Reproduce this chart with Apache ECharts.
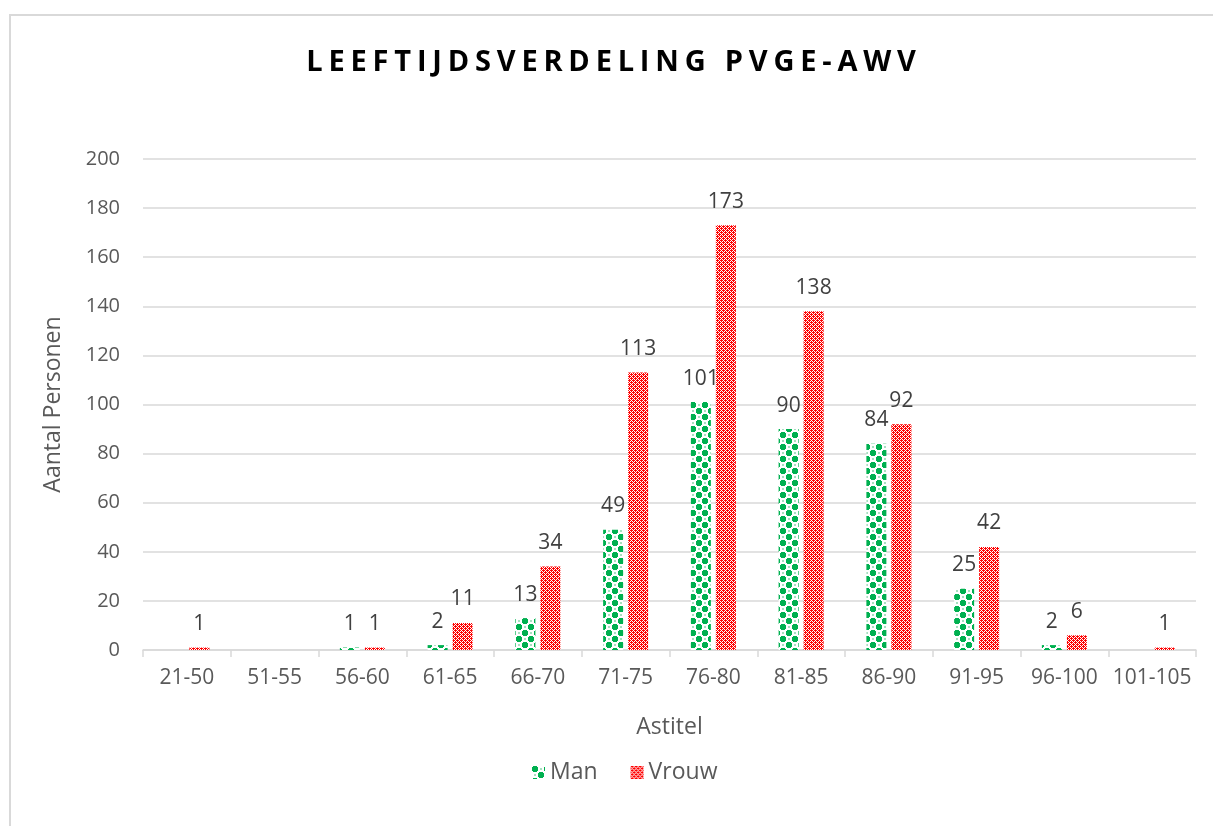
<!DOCTYPE html>
<html><head><meta charset="utf-8">
<script src="https://cdn.jsdelivr.net/npm/echarts@6/dist/echarts.min.js"></script>
<style>
html,body{margin:0;padding:0;background:#fff;}
#wrap{position:relative;width:1213px;height:826px;overflow:hidden;}
#frame{position:absolute;left:9px;top:14px;width:1300px;height:900px;border-left:2px solid #d9d9d9;border-top:2px solid #d9d9d9;box-sizing:border-box;}
#chart{position:absolute;left:0;top:0;width:1213px;height:826px;}
#title{position:absolute;left:0;top:40px;width:1228px;text-align:center;font-family:"Open Sans",sans-serif;font-weight:700;font-size:29px;letter-spacing:5.8px;color:#000;}
</style></head>
<body><div id="wrap"><div id="frame"></div><div id="chart"></div><div id="title">LEEFTIJDSVERDELING PVGE-AWV</div></div>
<script>
const categories = ['21-50','51-55','56-60','61-65','66-70','71-75','76-80','81-85','86-90','91-95','96-100','101-105'];
const manValues = [null, null, 1, 2, 13, 49, 101, 90, 84, 25, 2, null];
const vrouwValues = [1, null, 1, 11, 34, 113, 173, 138, 92, 42, 6, 1];
const seriesNames = ['Man','Vrouw'];
const yTicks = [0, 20, 40, 60, 80, 100, 120, 140, 160, 180, 200];

function makeManPattern(){
  const n = 12, h = 6;
  const c = document.createElement('canvas'); c.width = n; c.height = n;
  const g = c.getContext('2d');
  g.fillStyle = '#ffffff'; g.fillRect(0,0,n,n);
  g.fillStyle = '#00b050';
  [[0,0],[h,h]].forEach(([ox,oy]) => {
    g.fillRect(ox+1, oy, h-2, h); g.fillRect(ox, oy+1, h, h-2);
  });
  g.fillStyle = '#a8e0c0';
  g.fillRect(h+2, 2, 2, 2); g.fillRect(2, h+2, 2, 2);
  return c;
}
function makeVrouwPattern(){
  const c = document.createElement('canvas'); c.width = 4; c.height = 4;
  const g = c.getContext('2d');
  g.fillStyle = '#ffffff'; g.fillRect(0,0,4,4);
  g.fillStyle = '#ff0000';
  for (let y = 0; y < 4; y++) for (let x = 0; x < 4; x++) if ((x + y) % 2 === 0) g.fillRect(x, y, 1, 1);
  g.fillRect(1,0,1,1); g.fillRect(3,2,1,1);
  return c;
}
const manColor = {image: makeManPattern(), repeat: 'repeat'};
const vrouwColor = {image: makeVrouwPattern(), repeat: 'repeat'};

const font = '"Open Sans", sans-serif';
const chart = echarts.init(document.getElementById('chart'), null, {renderer:'canvas'});
const labelCfg = {show:true, position:'top', distance:13, color:'#404040', fontSize:21, fontFamily:font,
  formatter: p => (p.value == null ? '' : p.value)};
chart.setOption({
  animation:false,
  grid:{left:143, right:17, top:159, bottom:176, containLabel:false},
  legend:{data:seriesNames, left:527, top:756, itemWidth:13, itemHeight:13, itemGap:33,
    textStyle:{color:'#595959', fontSize:23, fontFamily:font}, icon:'rect'},
  xAxis:{type:'category', data:categories, name:'Astitel', nameLocation:'middle', nameGap:66,
    nameTextStyle:{color:'#595959', fontSize:23, fontFamily:font},
    axisLine:{lineStyle:{color:'#d9d9d9', width:1.5}},
    axisTick:{show:true, length:7, lineStyle:{color:'#d9d9d9', width:1.5}},
    axisLabel:{color:'#595959', fontSize:21, fontFamily:font, margin:18, interval:0}},
  yAxis:{type:'value', min:yTicks[0], max:yTicks[yTicks.length-1], interval:20,
    name:'Aantal Personen', nameLocation:'middle', nameGap:78,
    nameTextStyle:{color:'#595959', fontSize:23, fontFamily:font},
    axisLine:{show:false}, axisTick:{show:false},
    axisLabel:{color:'#595959', fontSize:20, fontFamily:font, margin:23},
    splitLine:{lineStyle:{color:'#d9d9d9', width:1.5}}},
  series:[
    {name:seriesNames[0], type:'bar', data:manValues, barWidth:20, barGap:'25%',
      itemStyle:{color:manColor}, label:labelCfg},
    {name:seriesNames[1], type:'bar', data:vrouwValues, barWidth:20, barGap:'25%',
      itemStyle:{color:vrouwColor}, label:labelCfg}
  ]
});
</script></body></html>
